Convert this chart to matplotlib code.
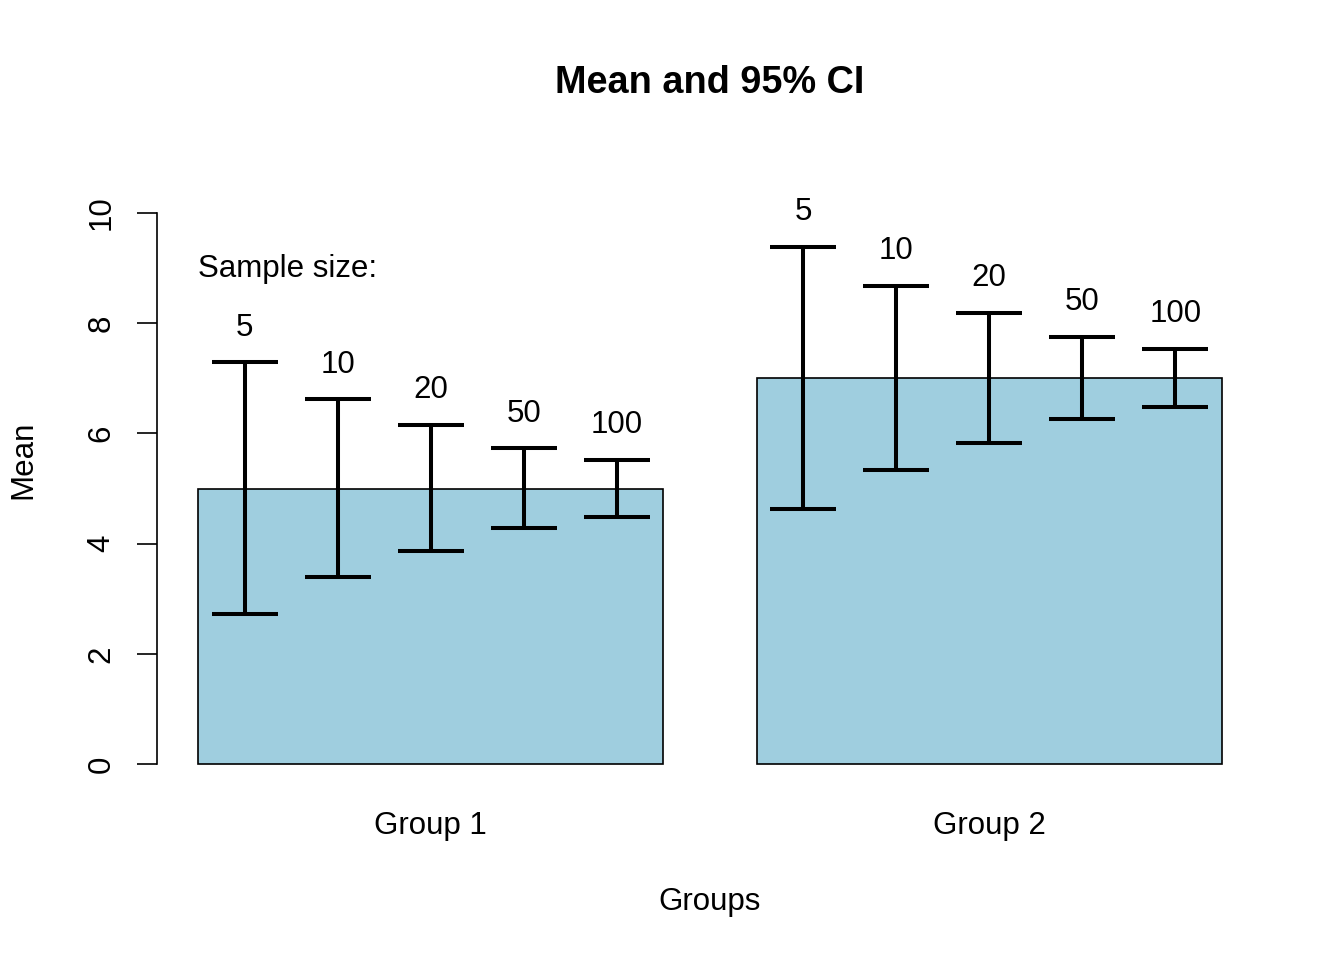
import numpy as np
import matplotlib
matplotlib.use("Agg")
import matplotlib.pyplot as plt

plt.rcParams['font.family'] = ['Liberation Sans', 'DejaVu Sans']

groups = ["Group 1", "Group 2"]
means = [5, 7]
sample_sizes = [5, 10, 20, 50, 100]
# upper / lower CI limits
upper_g1 = [7.29, 6.62, 6.15, 5.73, 5.52]
lower_g1 = [2.72, 3.39, 3.87, 4.28, 4.49]
upper_g2 = [9.38, 8.68, 8.19, 7.75, 7.53]
lower_g2 = [4.63, 5.34, 5.83, 6.26, 6.48]
upper = [upper_g1, upper_g2]
lower = [lower_g1, lower_g2]

bar_color = "#9FCEDF"
fs = 22.5

fig = plt.figure(figsize=(13.44, 9.6), dpi=100)
ax = fig.add_axes([157/1344, 1-786/960, (1263-157)/1344, (786-191)/960])

# R barplot layout: width 1, space 0.2
lefts = np.array([0.2, 1.4])
centers = lefts + 0.5
ax.bar(centers, means, width=1.0, color=bar_color, edgecolor="black", linewidth=1.2)

# error bar positions spread across each bar
offsets = np.linspace(-0.4, 0.4, len(sample_sizes))
for gi in range(len(groups)):
    xs = centers[gi] + offsets
    up = np.array(upper[gi])
    lo = np.array(lower[gi])
    ax.errorbar(xs, (up + lo) / 2, yerr=(up - lo) / 2, fmt="none", ecolor="black",
                elinewidth=2.9, capsize=24, capthick=2.9, zorder=3)
    for x, u, n in zip(xs, up, sample_sizes):
        ax.annotate(str(n), (x, u), xytext=(0, 25), textcoords="offset points",
                    ha="center", va="center", fontsize=fs)

ax.text(0.2, 8.98, "Sample size:", ha="left", va="center", fontsize=fs)

ax.set_xlim(0.2 - 0.088, 2.4 + 0.088)
ax.set_ylim(-0.4, 10.4)

for s in ["top", "right", "bottom"]:
    ax.spines[s].set_visible(False)
ax.spines["left"].set_bounds(0, 10)
ax.spines["left"].set_linewidth(1.2)

ax.set_yticks([0, 2, 4, 6, 8, 10])
ax.set_yticklabels(["0", "2", "4", "6", "8", "10"], rotation=90, va="center")
ax.tick_params(axis="y", length=14.5, width=1.2, pad=14.5, labelsize=fs)
ax.set_xticks(centers)
ax.set_xticklabels(groups)
ax.tick_params(axis="x", length=0, pad=17.7, labelsize=fs)

# axis titles placed like R's mtext
fig.text(710/1344, 1-910/960, "Groups", ha="center", va="baseline", fontsize=fs)
fig.text(23/1344, 1-460/960, "Mean", ha="center", va="center", rotation=90, fontsize=fs)

fig.text(710/1344, 1-83/960, "Mean and 95% CI", ha="center", va="center",
         fontsize=27.3, fontweight="bold")

fig.savefig("out.png", dpi=100)
